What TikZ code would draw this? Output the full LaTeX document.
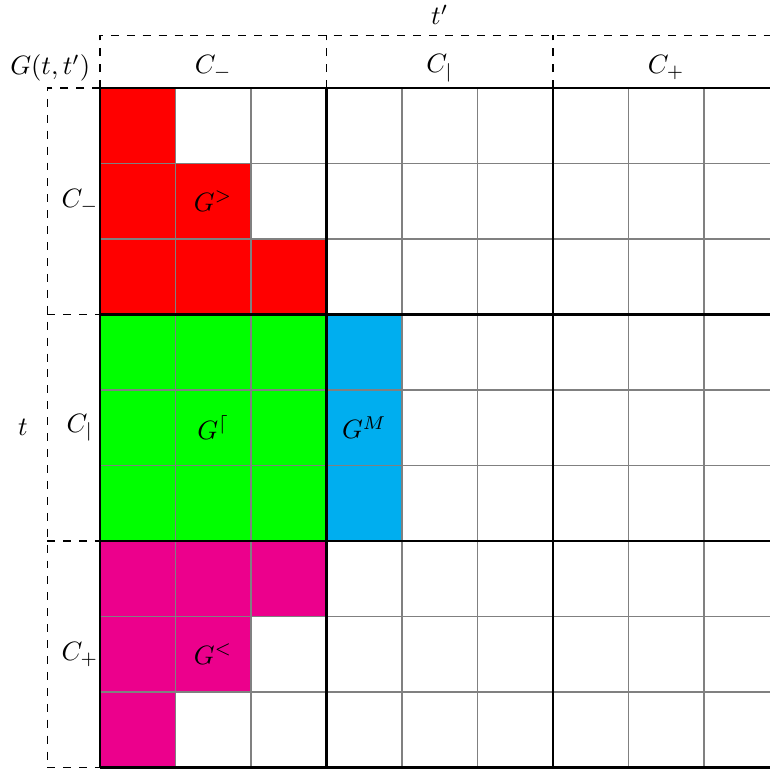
\documentclass[tikz,border=0pt]{standalone}
\usepackage{amsmath}
\usepackage{xcolor}
\usepackage{tikz}
\usetikzlibrary{positioning}

\definecolor{lessblock}{RGB}{236,0,140}
\definecolor{mixblock}{RGB}{0,174,239}

\begin{document}
\begin{tikzpicture}[
  cellline/.style={draw=gray, line width=0.5pt},
  blockline/.style={draw=black, line width=1.1pt},
  contour/.style={draw=black, dashed, line width=0.4pt},
  greater/.style={fill=red},
  ceilblock/.style={fill=green},
  mixed/.style={fill=mixblock},
  lesser/.style={fill=lessblock},
  blocklabel/.style={inner sep=1pt}
]
\useasboundingbox (-1.325,1.166) rectangle (8.874,-9.047);

% -------------------------------------------------------------------
% coloured blocks
% -------------------------------------------------------------------
\fill[greater] (0,0) -- (1,0) -- (1,-1) -- (2,-1) -- (2,-2) -- (3,-2)
  -- (3,-3) -- (0,-3) -- cycle;
\fill[ceilblock] (0,-3) rectangle (3,-6);
\fill[mixed] (3,-3) rectangle (4,-6);
\fill[lesser] (0,-6) -- (3,-6) -- (3,-7) -- (2,-7) -- (2,-8) -- (1,-8)
  -- (1,-9) -- (0,-9) -- cycle;

% -------------------------------------------------------------------
% grid
% -------------------------------------------------------------------
\foreach \i in {1,2,4,5,7,8} {
  \draw[cellline] (\i,0) -- (\i,-9);
  \draw[cellline] (0,-\i) -- (9,-\i);
}
\foreach \i in {0,3,6,9} {
  \draw[blockline] (\i,0) -- (\i,-9);
  \draw[blockline] (0,-\i) -- (9,-\i);
}

% contour branches
\draw[contour] (0,0) -- (0,0.7) -- (9,0.7);
\draw[contour] (3,0) -- (3,0.7);
\draw[contour] (6,0) -- (6,0.7);
\draw[contour] (9,0) -- (9,0.7);
\draw[contour] (0,0) -- (-0.7,0) -- (-0.7,-9) -- (0,-9);
\draw[contour] (-0.7,-3) -- (0,-3);
\draw[contour] (-0.7,-6) -- (0,-6);

% -------------------------------------------------------------------
% labels
% -------------------------------------------------------------------
\node (tprime) at (4.5,0.97) {$t'$};
\node (gtt) at (-0.66,0.265) {$G(t,t')$};
\node (topminus) at (1.5,0.265) {$C_-$};
\node (topbar) at (4.5,0.265) {$C_|$};
\node (topplus) at (7.5,0.265) {$C_+$};

\node (tleft) at (-1.02,-4.5) {$t$};
\node (leftminus) at (-0.265,-1.5) {$C_-$};
\node (leftbar) at (-0.265,-4.5) {$C_|$};
\node (leftplus) at (-0.265,-7.5) {$C_+$};

\node[blocklabel] (ggreater) at (1.5,-1.5) {$G^>$};
\node[blocklabel] (gceil) at (1.5,-4.5) {$G^\lceil$};
\node[blocklabel] (gmixed) at (3.5,-4.5) {$G^M$};
\node[blocklabel] (glesser) at (1.5,-7.5) {$G^<$};

\end{tikzpicture}
\end{document}
